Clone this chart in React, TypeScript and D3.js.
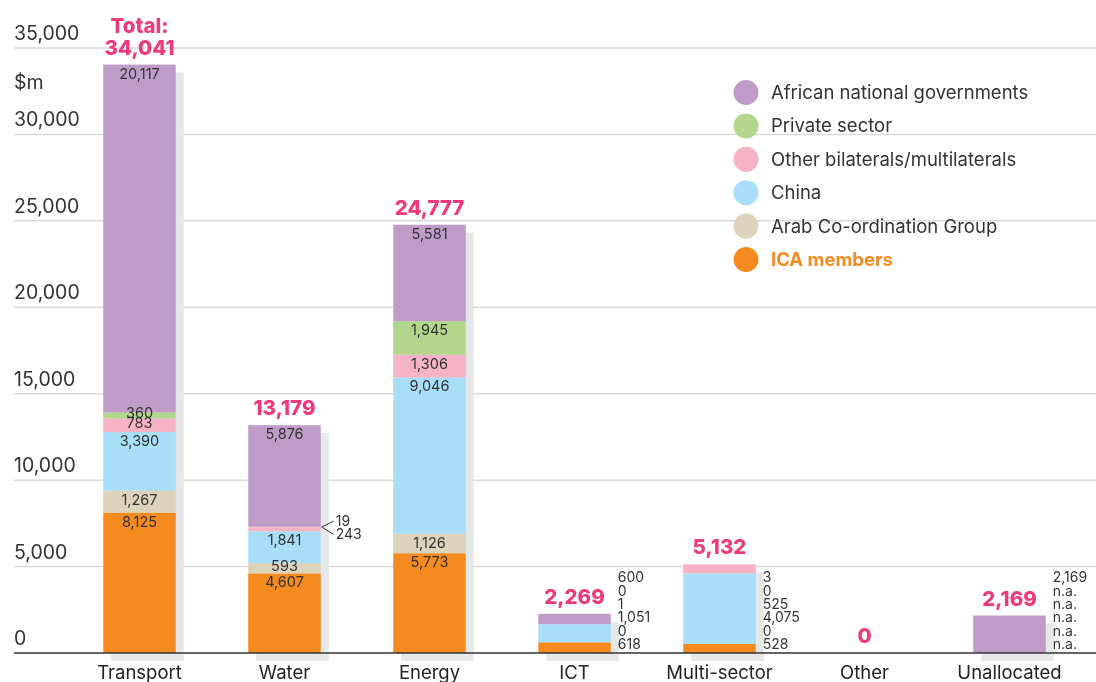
import React from 'react';
import * as d3 from 'd3';

// $m by source of finance, per sector
const categories = ['Transport', 'Water', 'Energy', 'ICT', 'Multi-sector', 'Other', 'Unallocated'];
const african = [20117, 5876, 5581, 600, 3, 0, 2169];
const privateSector = [360, 19, 1945, 0, 0, 0, null];
const otherBilateral = [783, 243, 1306, 1, 525, 0, null];
const china = [3390, 1841, 9046, 1051, 4075, 0, null];
const arab = [1267, 593, 1126, 0, 0, 0, null];
const ica = [8125, 4607, 5773, 618, 528, 0, null];
const totals = [34041, 13179, 24777, 2269, 5132, 0, 2169];
const yTicks = [0, 5000, 10000, 15000, 20000, 25000, 30000, 35000];

// how the segment values are written: inside the bar or as a list beside it
const labelMode = ['inside', 'inside', 'inside', 'list', 'list', 'none', 'list'];

const series = [
    { key: 'ica', name: 'ICA members', values: ica, color: '#f58b1f' },
    { key: 'arab', name: 'Arab Co-ordination Group', values: arab, color: '#ddd3bb' },
    { key: 'china', name: 'China', values: china, color: '#a8def7' },
    { key: 'other', name: 'Other bilaterals/multilaterals', values: otherBilateral, color: '#f6b3c5' },
    { key: 'private', name: 'Private sector', values: privateSector, color: '#b1d68c' },
    { key: 'african', name: 'African national governments', values: african, color: '#bf9cc8' },
];

const W = 1096;
const H = 682;
const FONT = 'Inter, "Open Sans", sans-serif';
const PINK = '#ee3a7b';
const fmt = d3.format(',');

export default function App() {
    const x = d3.scaleBand().domain(categories).range([67, 1082]).paddingInner(0.5).paddingOuter(0.25);
    const y = d3.scaleLinear().domain([0, 35000]).range([653, 48]);
    const bw = x.bandwidth();

    const rows = categories.map((c, i) => {
        const row: any = { cat: c };
        series.forEach(s => { row[s.key] = s.values[i] || 0; });
        return row;
    });
    const stacked = d3.stack().keys(series.map(s => s.key))(rows);

    // top of each stacked bar, in data units
    const stackTop = categories.map((c, i) => d3.sum(series, s => s.values[i] || 0));

    const legendOrder = series.slice().reverse();

    return (
        <div style={{ position: 'fixed', left: 0, top: 0 }}>
            <svg width={W} height={H} style={{ display: 'block', fontFamily: FONT }}>
                {/* grid */}
                {yTicks.filter(t => t > 0).map(t => (
                    <line key={t} x1={14} x2={W} y1={y(t)} y2={y(t)} stroke="#dadada" strokeWidth={1.5} />
                ))}
                {yTicks.map(t => (
                    <text key={'l' + t} x={14} y={y(t) - 8} fontSize={19.5} fill="#333">{fmt(t)}</text>
                ))}
                <text x={14} y={89} fontSize={19.5} fill="#333">$m</text>

                {/* shadows */}
                {categories.map((c, i) => stackTop[i] > 0 && (
                    <rect key={'sh' + c} x={(x(c) as number) + 8} y={y(stackTop[i]) + 8} width={bw}
                        height={y(0) - y(stackTop[i])} fill="#e6e7e8" />
                ))}

                {/* bars */}
                {stacked.map((layer, li) => (
                    <g key={layer.key} fill={series[li].color}>
                        {layer.map((d, i) => d[1] > d[0] && (
                            <rect key={i} x={x(categories[i])} y={y(d[1])} width={bw} height={y(d[0]) - y(d[1])} />
                        ))}
                    </g>
                ))}

                <line x1={14} x2={W} y1={y(0)} y2={y(0)} stroke="#333" strokeWidth={1.5} />

                {/* values inside bars */}
                {stacked.map((layer, li) => layer.map((d, i) => {
                    const v = series[li].values[i];
                    if (labelMode[i] !== 'inside' || !v || v < 300) return null;
                    const top = y(d[1]);
                    const h = y(d[0]) - top;
                    const cy = h >= 18 ? top + 9 : top + h / 2 - 2;
                    return (
                        <text key={layer.key + i} x={(x(categories[i]) as number) + bw / 2} y={cy}
                            dy="0.35em" textAnchor="middle" fontSize={14.5} fill="#333">{fmt(v)}</text>
                    );
                }))}

                {/* small values with leader lines */}
                {categories.map((c, i) => {
                    if (labelMode[i] !== 'inside') return null;
                    const small = series.filter(s => s.values[i] && (s.values[i] as number) < 300).reverse();
                    if (!small.length) return null;
                    const keys = series.map(s => s.key);
                    const first = stacked[keys.indexOf(small[small.length - 1].key)][i];
                    const x0 = (x(c) as number) + bw + 1;
                    const y0 = y(first[1]);
                    return (
                        <g key={'lead' + c}>
                            {small.map((s, k) => {
                                const ty = y0 - 6 + k * 13.5;
                                return (
                                    <g key={s.key}>
                                        <line x1={x0} y1={y0} x2={x0 + 12} y2={ty} stroke="#333" strokeWidth={1} />
                                        <text x={x0 + 14} y={ty} dy="0.35em" fontSize={14} fill="#333">{fmt(s.values[i] as number)}</text>
                                    </g>
                                );
                            })}
                        </g>
                    );
                })}

                {/* value lists beside small bars */}
                {categories.map((c, i) => labelMode[i] === 'list' && (
                    <g key={'list' + c}>
                        {legendOrder.map((s, k) => {
                            const v = s.values[i];
                            return (
                                <text key={s.key} x={(x(c) as number) + bw + 7} y={y(0) - 9 - (5 - k) * 13.3}
                                    dy="0.35em" fontSize={14} fill="#333">{v === null ? 'n.a.' : fmt(v)}</text>
                            );
                        })}
                    </g>
                ))}

                {/* totals */}
                {categories.map((c, i) => (
                    <g key={'tot' + c} fontWeight={800} fill={PINK} fontSize={20.5} textAnchor="middle">
                        {i === 0 && (
                            <text x={(x(c) as number) + bw / 2} y={y(stackTop[i]) - 32}>Total:</text>
                        )}
                        <text x={(x(c) as number) + bw / 2} y={y(stackTop[i]) - 10}>{fmt(totals[i])}</text>
                    </g>
                ))}

                {/* category axis */}
                {categories.map(c => (
                    <text key={'c' + c} x={(x(c) as number) + bw / 2} y={679} textAnchor="middle" fontSize={18.5} fill="#222">{c}</text>
                ))}

                {/* legend */}
                {legendOrder.map((s, k) => (
                    <g key={'lg' + s.key} transform={`translate(746,${92.5 + k * 33.4})`}>
                        <circle r={12.5} fill={s.color} />
                        <text x={25} dy="0.35em" fontSize={18.5}
                            fill={s.key === 'ica' ? '#f58b1f' : '#333'} fontWeight={s.key === 'ica' ? 700 : 400}>{s.name}</text>
                    </g>
                ))}
            </svg>
        </div>
    );
}
